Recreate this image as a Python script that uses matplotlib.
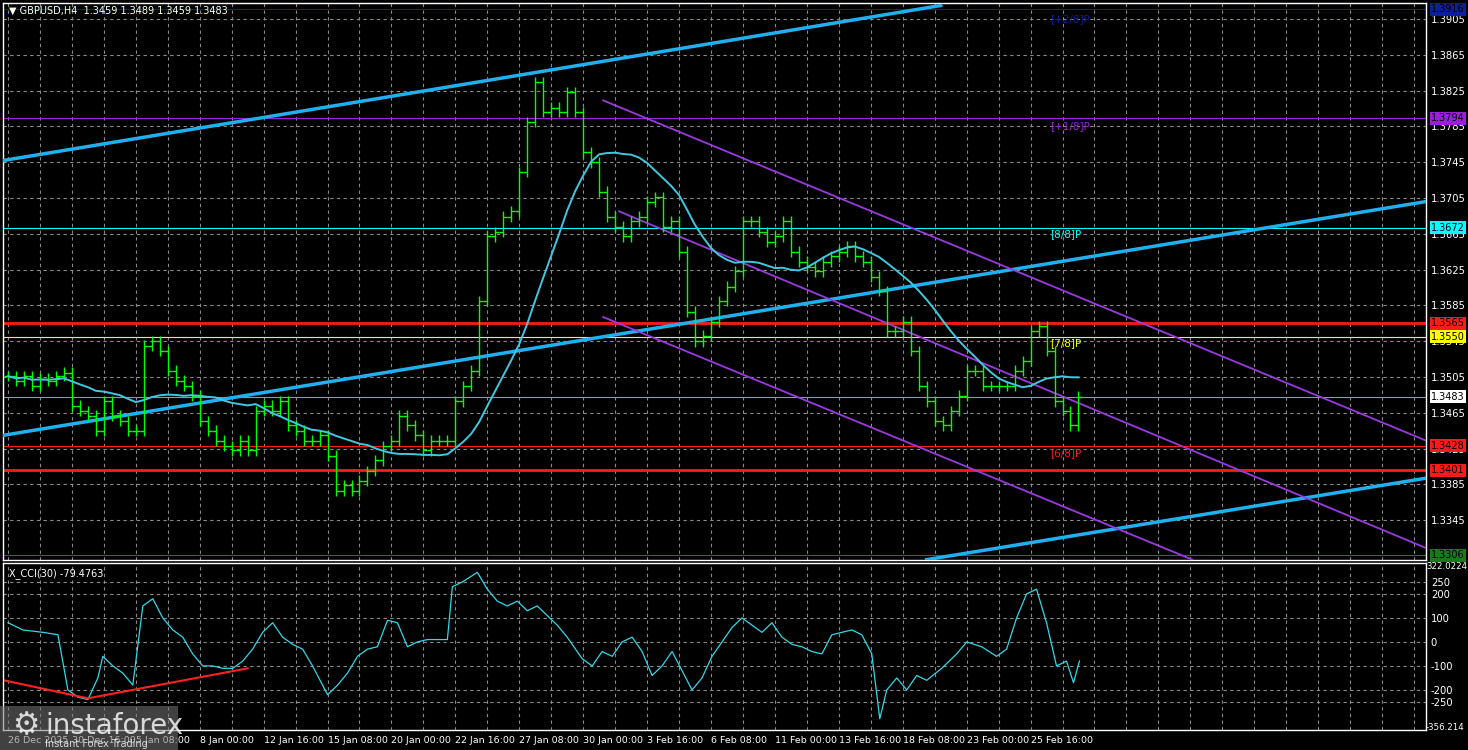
import matplotlib
matplotlib.use("Agg")
import matplotlib.pyplot as plt
import numpy as np
import pandas as pd

# ---- data ----
closes = [1.3506,1.3501,1.3506,1.3495,1.3503,1.3501,1.3506,1.3510,1.3473,1.3467,1.3462,1.3445,1.3478,1.3462,1.3456,1.3445,1.3445,
          1.3540,1.3545,1.3534,1.3512,1.3501,1.3495,1.3484,1.3456,1.3445,1.3434,1.3428,1.3423,1.3434,1.3423,1.3467,1.3473,1.3467,
          1.3478,1.3451,1.3445,1.3434,1.3434,1.3440,1.3417,1.3378,1.3384,1.3378,1.3389,1.3400,1.3412,1.3428,1.3434,1.3462,1.3451,
          1.3440,1.3423,1.3434,1.3434,1.3434,1.3478,1.3495,1.3512,1.3590,1.3662,1.3667,1.3684,1.3690,1.3734,1.3790,1.3834,1.3801,
          1.3806,1.3801,1.3823,1.3801,1.3756,1.3745,1.3712,1.3684,1.3673,1.3662,1.3679,1.3684,1.3701,1.3706,1.3673,1.3679,1.3645,
          1.3578,1.3545,1.3551,1.3567,1.3590,1.3606,1.3623,1.3679,1.3679,1.3667,1.3656,1.3662,1.3679,1.3645,1.3634,1.3628,1.3623,
          1.3634,1.3640,1.3645,1.3651,1.3640,1.3634,1.3617,1.3601,1.3556,1.3556,1.3567,1.3534,1.3495,1.3478,1.3456,1.3451,1.3467,
          1.3484,1.3512,1.3512,1.3495,1.3495,1.3495,1.3495,1.3512,1.3523,1.3556,1.3562,1.3534,1.3478,1.3467,1.3451,1.3483]
cci_bars = [0,3.75,8.75,12.5,15,17.5,20,22.5,23.75,26.25,
            28.75,31.25,33.75,36.25,38.75,41.25,43.75,46.25,48.75,51.25,
            53.75,56.25,58.75,61.25,63.75,66.25,68.75,71.25,73.75,76.25,
            80,82.5,85,87.5,90,92.5,95,97.5,100,102.5,
            105,110,111.25,113.75,117.5,120,122.5,125,127.5,130,
            132.5,135,137.5,140,143.75,146.25,148.75,151.25,153.75,156.25,
            158.75,161.25,163.75,166.25,168.75,171.25,173.75,176.25,178.75,181.25,
            183.75,186.25,188.75,191.25,193.75,196.25,198.75,201.25,203.75,206.25,
            208.75,211.25,213.75,216.25,218.25,220,222.5,225,227.5,230,
            233.75,237.5,240,243.75,247.5,250,252.5,255,257.5,260,
            262.5,265,266.75,268.25]
cci_vals = [80,50,40,30,-200,-230,-240,-150,-60,-100,
            -130,-180,150,180,100,50,20,-50,-100,-100,
            -110,-110,-80,-30,40,80,20,-10,-30,-100,
            -220,-180,-130,-60,-30,-20,90,80,-20,0,
            10,10,230,250,290,220,170,150,170,130,
            150,110,70,20,-70,-100,-40,-60,0,20,
            -40,-140,-100,-40,-120,-200,-150,-60,0,60,
            100,70,40,80,20,-10,-20,-40,-50,30,
            40,50,30,-50,-320,-200,-150,-200,-140,-160,
            -110,-50,0,-20,-60,-30,100,200,220,80,
            -100,-80,-170,-79.4763]

levels = [1.3916,1.3794,1.3672,1.3565,1.3550,1.3483,1.3428,1.3401,1.3306]
level_colors = ['#0a1f9c','#9a1fd8','#00ffff','#ff1a1a','#ffff00','#ffffff','#ff1a1a','#ff1a1a','#1a7a1a']
level_widths = [0.8,0.8,0.8,2.0,0.8,0.8,0.8,2.0,0.8]
level_names = ['[+2/8]P','[+1/8]P','[8/8]P','[7/8]P','[6/8]P']
level_name_prices = [1.3905,1.3785,1.3665,1.3543,1.3420]
level_name_colors = ['#0a1f9c','#9a1fd8','#00ffff','#ffff00','#ff1a1a']

blue_lines = [((-1, 1.3747), (233.5, 1.3920)), ((-1, 1.3440), (355, 1.3701)), ((230, 1.3301), (355, 1.3392))]
purple_lines = [((149, 1.3814), (355, 1.3434)), ((153, 1.3690), (355, 1.3314)), ((149, 1.3572), (296.5, 1.3301))]
cci_red = [(-1, -160), (20, -235), (60, -110)]

date_labels = ['26 Dec 2025','30 Dec 16:00','5 Jan 08:00','8 Jan 00:00','12 Jan 16:00','15 Jan 08:00','20 Jan 00:00',
               '22 Jan 16:00','27 Jan 08:00','30 Jan 00:00','3 Feb 16:00','6 Feb 08:00','11 Feb 00:00','13 Feb 16:00',
               '18 Feb 08:00','23 Feb 00:00','25 Feb 16:00']
price_ticks = [1.3905,1.3865,1.3825,1.3785,1.3745,1.3705,1.3665,1.3625,1.3585,1.3545,1.3505,1.3465,1.3425,1.3385,1.3345]

# ---- figure ----
W, H = 1468, 750
fig = plt.figure(figsize=(W/100, H/100), dpi=100, facecolor='black')
ax = fig.add_axes([3/W, 1-560/H, 1423/W, 557/H], facecolor='black')
ax2 = fig.add_axes([3/W, 1-730/H, 1423/W, 167/H], facecolor='black')
xl = (-1.25, 355.0)
for a in (ax, ax2):
    a.set_xlim(*xl)
    for s in a.spines.values():
        s.set_color('white'); s.set_linewidth(1)
    a.tick_params(colors='white', length=0, labelsize=7.2)
    a.set_xticks(np.arange(0, 356, 8))
    a.xaxis.grid(True, color='#8a8a8a', ls=(0, (3, 3)), lw=0.8)
    a.set_xticklabels([])
ax.set_ylim(1.33006, 1.39228)
ax.yaxis.tick_right()
ax.set_yticks(price_ticks)
ax.set_yticklabels([f'{p:.4f}' for p in price_ticks])
ax.yaxis.grid(True, color='#8a8a8a', ls=(0, (3, 3)), lw=0.8)

for lv, c, w in zip(levels, level_colors, level_widths):
    lc = '#8899aa' if c == '#ffffff' else c
    ax.axhline(lv, color=lc, lw=w, zorder=2)
    ax.text(1.0035, lv, f'{lv:.4f}', transform=ax.get_yaxis_transform(), color='black', fontsize=7,
            va='center', ha='left', zorder=10, clip_on=False,
            bbox=dict(boxstyle='square,pad=0.15', fc=c, ec='none'))
for n, p, c in zip(level_names, level_name_prices, level_name_colors):
    ax.text(261, p, n, color=c, fontsize=7.5, va='center')

for (x0, y0), (x1, y1) in blue_lines:
    ax.plot([x0, x1], [y0, y1], color='#1fb0f0', lw=2.5, zorder=3)
for (x0, y0), (x1, y1) in purple_lines:
    ax.plot([x0, x1], [y0, y1], color='#9a3ae0', lw=1.3, zorder=3)

cl = np.array(closes)
bars = np.arange(len(cl)) * 2.0
op = np.r_[cl[0], cl[:-1]]
hi = np.maximum(op, cl) + 0.0006
lo = np.minimum(op, cl) - 0.0006
ax.vlines(bars, lo, hi, color='#00ff00', lw=1.0, zorder=4)
ax.hlines(cl, bars, bars + 1.0, color='#00ff00', lw=1.0, zorder=4)
ax.hlines(op, bars - 1.0, bars, color='#00ff00', lw=1.0, zorder=4)
ma = pd.Series(cl).rolling(15, min_periods=1).mean()
ax.plot(bars, ma, color='#40c8e0', lw=1.4, zorder=5)

ax.text(0.004, 0.995, '▼ GBPUSD,H4  1.3459 1.3489 1.3459 1.3483', transform=ax.transAxes, color='white',
        fontsize=7, va='top')

# CCI
ax2.set_ylim(-367, 329)
ax2.yaxis.tick_right()
cticks = [250, 200, 100, 0, -100, -200, -250]
ax2.set_yticks(cticks)
ax2.set_yticklabels([str(t) for t in cticks])
ax2.yaxis.grid(True, color='#8a8a8a', ls=(0, (3, 3)), lw=0.8)
ax2.plot(cci_bars, cci_vals, color='#30d8e8', lw=0.9)
ax2.plot([p[0] for p in cci_red], [p[1] for p in cci_red], color='#ff2020', lw=1.5)
ax2.text(1.0, 316, '322.0224', transform=ax2.get_yaxis_transform(), color='white', fontsize=6.2,
         va='center', ha='left', clip_on=False)
ax2.text(1.0, -356.214, '-356.214', transform=ax2.get_yaxis_transform(), color='white', fontsize=6.2,
         va='center', ha='left', clip_on=False)
ax2.text(0.004, 0.97, 'X_CCI(30) -79.4763', transform=ax2.transAxes, color='white', fontsize=7, va='top')

for i, lab in enumerate(date_labels):
    ax2.text(i * 16, -392, lab, color='white', fontsize=6.8, va='top', ha='left', clip_on=False)

# watermark
fig.patches.append(plt.Rectangle((0, 0), 178/W, 44/H, transform=fig.transFigure, fc='#777777', alpha=0.55, zorder=20))
fig.text(45/W, 24/H, 'instaforex', color='white', fontsize=20, alpha=0.8, va='center', zorder=21)
fig.text(45/W, 3/H, 'Instant Forex Trading', color='white', fontsize=7, alpha=0.8, zorder=21)
fig.text(12/W, 24/H, '⚙', color='white', fontsize=22, alpha=0.8, va='center', zorder=21)

fig.savefig('out.png', dpi=100, facecolor='black')
